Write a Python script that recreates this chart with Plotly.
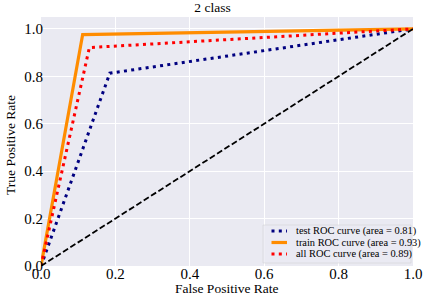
import plotly.graph_objects as go

test_fpr = [0.0, 0.185, 1.0]
test_tpr = [0.0, 0.813, 1.0]
train_fpr = [0.0, 0.112, 1.0]
train_tpr = [0.0, 0.976, 1.0]
all_fpr = [0.0, 0.13, 1.0]
all_tpr = [0.0, 0.921, 1.0]
diag = [0.0, 1.0]

legend_names = ["test ROC curve (area = 0.81)",
                "train ROC curve (area = 0.93)",
                "all ROC curve (area = 0.89)"]

FONT = "Liberation Serif"
NAVY, ORANGE, RED = "#000080", "#FF8C00", "#FF0000"
DOT = "3px,4.3px"

fig = go.Figure()
fig.add_trace(go.Scatter(x=test_fpr, y=test_tpr, mode="lines",
                         line=dict(color=NAVY, width=3, dash=DOT),
                         name=legend_names[0], showlegend=False))
fig.add_trace(go.Scatter(x=train_fpr, y=train_tpr, mode="lines",
                         line=dict(color=ORANGE, width=3.2),
                         name=legend_names[1], showlegend=False))
fig.add_trace(go.Scatter(x=all_fpr, y=all_tpr, mode="lines",
                         line=dict(color=RED, width=3, dash=DOT),
                         name=legend_names[2], showlegend=False))
fig.add_trace(go.Scatter(x=diag, y=diag, mode="lines",
                         line=dict(color="black", width=1.8, dash="6px,2.7px"),
                         showlegend=False))

# Plot area in pixels: x 41..413, y 17..266
L, R, T, B = 41, 413, 17, 266
def px(xp):
    return (xp - L) / (R - L)
def py(yp):
    return (B - yp) / (B - T)

shapes = [dict(type="rect", xref="paper", yref="paper",
               x0=px(263), x1=px(411), y0=py(263), y1=py(225),
               fillcolor="rgba(234,234,242,0.8)",
               line=dict(color="rgba(204,204,204,0.6)", width=0.8), layer="above")]
annotations = []
rows = [231, 242.5, 254]
styles = [dict(color=NAVY, width=3, dash=DOT),
          dict(color=ORANGE, width=3.2),
          dict(color=RED, width=3, dash=DOT)]
for yr, st, name in zip(rows, styles, legend_names):
    shapes.append(dict(type="line", xref="paper", yref="paper",
                       x0=px(271.5), x1=px(287), y0=py(yr), y1=py(yr),
                       line=st, layer="above"))
    annotations.append(dict(text=name, xref="paper", yref="paper",
                            x=px(294), y=py(yr), xanchor="left", yanchor="middle",
                            showarrow=False, font=dict(family=FONT, size=10.4, color="black")))

# axis titles placed as annotations
annotations.append(dict(text="False Positive Rate", xref="paper", yref="paper",
                        x=0.5, y=py(288.5), xanchor="center", yanchor="middle",
                        showarrow=False, font=dict(family=FONT, size=13.5, color="black")))
annotations.append(dict(text="True Positive Rate", xref="paper", yref="paper",
                        x=px(10), y=py(145), xanchor="center", yanchor="middle",
                        textangle=-90,
                        showarrow=False, font=dict(family=FONT, size=13.5, color="black")))

fig.update_layout(
    width=425, height=298,
    margin=dict(l=L, r=425 - R, t=T, b=298 - B),
    paper_bgcolor="white", plot_bgcolor="#EAEAF2",
    font=dict(family=FONT, size=13, color="black"),
    title=dict(text="2 class", x=0.5, xanchor="center", y=1 - 7 / 298, yanchor="middle",
               font=dict(family=FONT, size=13.5, color="black")),
    showlegend=False,
    shapes=shapes, annotations=annotations,
)
fig.update_xaxes(range=[0, 1], tickvals=[0, 0.2, 0.4, 0.6, 0.8, 1.0],
                 ticktext=["0.0", "0.2", "0.4", "0.6", "0.8", "1.0"],
                 showgrid=True, gridcolor="white", gridwidth=1.2, zeroline=False,
                 automargin=False, ticklabelstandoff=-3,
                 ticks="", tickfont=dict(size=15))
fig.update_yaxes(range=[0, 1.05], tickvals=[0, 0.2, 0.4, 0.6, 0.8, 1.0],
                 ticktext=["0.0", "0.2", "0.4", "0.6", "0.8", "1.0"],
                 showgrid=True, gridcolor="white", gridwidth=1.2, zeroline=False,
                 automargin=False, ticklabelstandoff=-3,
                 ticks="", tickfont=dict(size=15))

fig.write_html("out.html", config={"displayModeBar": False},
               post_script="document.body.style.margin='0px';")
